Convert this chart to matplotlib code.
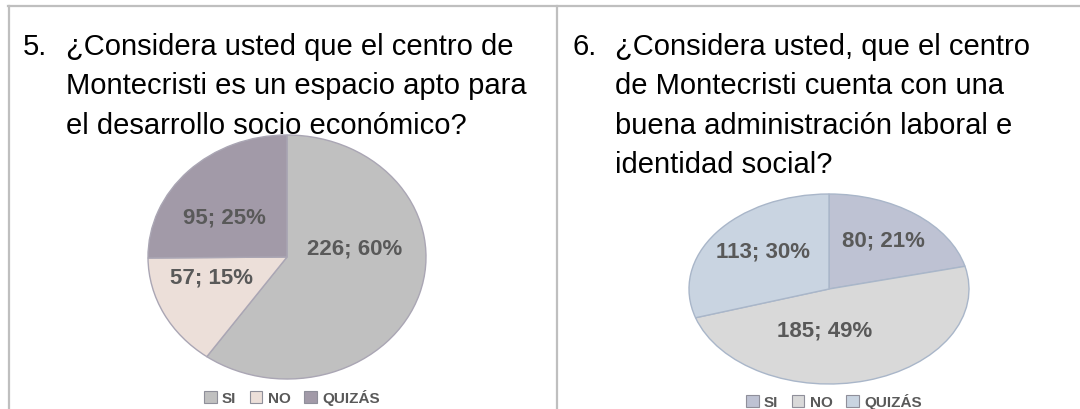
import matplotlib.pyplot as plt
from matplotlib.lines import Line2D
from matplotlib.patches import Patch

# survey answers
categories = ["SI", "NO", "QUIZÁS"]
q5_counts = [226, 57, 95]
q6_counts = [80, 185, 113]

q5_text = ["¿Considera usted que el centro de",
           "Montecristi es un espacio apto para",
           "el desarrollo socio económico?"]
q6_text = ["¿Considera usted, que el centro",
           "de Montecristi cuenta con una",
           "buena administración laboral e",
           "identidad social?"]

q5_colors = ["#c0c0c0", "#ecdfd9", "#a29aa8"]
q6_colors = ["#bec2d3", "#d9d9d9", "#c9d4e1"]

# label anchor points inside each pie (pie units)
q5_label_pos = [(0.49, 0.07), (-0.54, -0.16), (-0.45, 0.33)]
q6_label_pos = [(0.39, 0.52), (-0.03, -0.43), (-0.47, 0.40)]

W, H = 1080, 410
BORDER = "#bfbfbf"
LABEL = "#595959"


def px_rect(cx, cy, rx, ry):
    return [(cx - rx) / W, 1 - (cy + ry) / H, 2 * rx / W, 2 * ry / H]


def draw_pie(fig, rect, counts, colors, edge, label_pos, legend_xy):
    ax = fig.add_axes(rect)
    wedges, _ = ax.pie(counts, colors=colors, startangle=90, counterclock=False,
                       wedgeprops=dict(edgecolor=edge, linewidth=1.0))
    ax.set_aspect("auto")
    ax.set_xlim(-1, 1)
    ax.set_ylim(-1, 1)
    total = sum(counts)
    for n, (x, y) in zip(counts, label_pos):
        ax.text(x, y, "{}; {}%".format(n, round(100 * n / total)),
                ha="center", va="center", fontsize=16, fontweight="bold",
                color=LABEL, family="Liberation Sans")
    handles = [Patch(facecolor=c, edgecolor="#8f8f9a", linewidth=0.8) for c in colors]
    fig.legend(handles, categories, loc="center", bbox_to_anchor=legend_xy,
               ncol=3, frameon=False, handlelength=0.8, handleheight=0.8,
               handletextpad=0.35, columnspacing=0.9,
               prop=dict(family="Liberation Sans", weight="bold", size=11),
               labelcolor=LABEL)
    return ax


def draw_question(fig, x_num, x_text, num, lines):
    y0, step = 55, 39.5
    fig.text(x_num / W, 1 - y0 / H, num, ha="left", va="baseline",
             fontsize=21, family="Liberation Sans", color="black")
    for i, line in enumerate(lines):
        fig.text(x_text / W, 1 - (y0 + i * step) / H, line, ha="left",
                 va="baseline", fontsize=21, family="Liberation Sans", color="black")


fig = plt.figure(figsize=(W / 100, H / 100), dpi=100)

# table grid
fig.add_artist(Line2D([8 / W, 1], [1 - 7 / H, 1 - 7 / H], color=BORDER, lw=1.6))
fig.add_artist(Line2D([8.5 / W, 8.5 / W], [0, 1 - 7 / H], color=BORDER, lw=1.6))
fig.add_artist(Line2D([557 / W, 557 / W], [0, 1 - 7 / H], color=BORDER, lw=1.6))

draw_question(fig, 23, 66, "5.", q5_text)
draw_question(fig, 572, 615, "6.", q6_text)

draw_pie(fig, px_rect(287, 258, 139, 122), q5_counts, q5_colors, "#aaa6b4",
         q5_label_pos, (292 / W, 1 - 398 / H))
draw_pie(fig, px_rect(829, 290, 140, 95), q6_counts, q6_colors, "#a9b6c9",
         q6_label_pos, (834 / W, 1 - 402 / H))

fig.savefig("out.png", dpi=100, facecolor="white")
